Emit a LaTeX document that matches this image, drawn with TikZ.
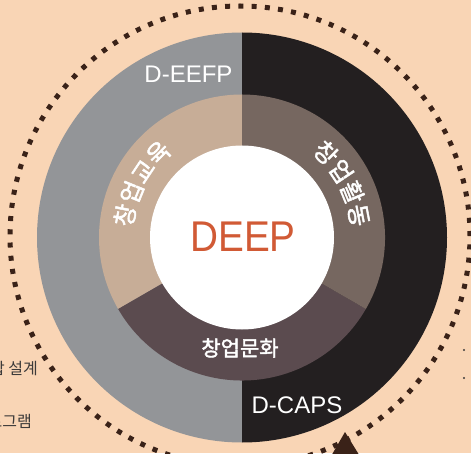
\documentclass[tikz,border=0pt]{standalone}
\usepackage{fontspec}
\setmainfont{Liberation Sans}
\newfontfamily\kr{Noto Sans CJK KR}
\newfontfamily\krb{Noto Sans CJK KR}[FakeBold=2]
\usetikzlibrary{decorations.text}
\definecolor{bg}{HTML}{F9D5B5}
\definecolor{outgray}{HTML}{939598}
\definecolor{outdark}{HTML}{231F20}
\definecolor{ringtan}{HTML}{C7AD97}
\definecolor{ringtaupe}{HTML}{766760}
\definecolor{ringmauve}{HTML}{5B4B4F}
\definecolor{deeporange}{HTML}{D15A35}
\definecolor{dotbrown}{HTML}{3A2218}
\definecolor{sidetext}{HTML}{3D3B3A}
\tikzset{
  dotring/.style={draw=dotbrown, line width=5pt, dash pattern=on 5pt off 8.258pt},
  ringlabel/.style={text=white, inner sep=0pt, font=\fontsize{24}{28}\selectfont},
  sidelabel/.style={text=sidetext, inner sep=0pt, anchor=east, font=\kr\fontsize{16}{19}\selectfont},
  curvedtext/.style={decorate, decoration={text along path, text align=center, text color=white, text={|\krb\fontsize{24}{28}\selectfont|#1}}}
}
\begin{document}
\begin{tikzpicture}[x=1pt,y=1pt]
\useasboundingbox (0,0) rectangle (471,453);
\fill[bg] (0,0) rectangle (471,453);
\coordinate (c) at (242,215.5);
\coordinate (dc) at (240,217);
% dotted orbit
\draw[dotring] (dc) circle[radius=230];
% outer ring
\fill[outgray] (c) -- ++(90:205) arc[start angle=90,end angle=270,radius=205] -- cycle;
\fill[outdark] (c) -- ++(90:205) arc[start angle=90,end angle=-90,radius=205] -- cycle;
% middle ring sectors
\fill[ringtan] (c) -- ++(90:143) arc[start angle=90,end angle=210,radius=143] -- cycle;
\fill[ringmauve] (c) -- ++(210:143) arc[start angle=210,end angle=330,radius=143] -- cycle;
\fill[ringtaupe] (c) -- ++(-30:143) arc[start angle=-30,end angle=90,radius=143] -- cycle;
\fill[white] (c) circle[radius=92];
% arrow head at bottom
\coordinate (tipA) at (345,21);
\coordinate (tipB) at (330,-5);
\coordinate (tipC) at (361,-5);
\fill[dotbrown] (tipA) -- (tipB) -- (tipC) -- cycle;
% texts
\node[text=deeporange, inner sep=0pt, font=\fontsize{43}{48}\selectfont] (deep) at (243,216.5) {\scalebox{0.9}[1]{DEEP}};
\node[ringlabel] (eefp) at (188.5,379) {D-EEFP};
\node[ringlabel] (caps) at (297,48) {D-CAPS};
\node[text=white, inner sep=0pt, font=\krb\fontsize{21}{25}\selectfont] (culture) at (240,105) {창업문화};
\path[shift={(242,215.5)}, curvedtext={창업교육}] (194:110) arc[start angle=194,end angle=110,radius=110];
\path[shift={(242,215.5)}, curvedtext={창업활동}] (70:110) arc[start angle=70,end angle=-14,radius=110];
% cropped side texts
\node[sidelabel] (design) at (38,85) {통합 설계};
\node[sidelabel] (program) at (32,32) {프로그램};
\fill[sidetext] (464,103) circle[radius=1.2];
\fill[sidetext] (464,75) circle[radius=1.2];
\end{tikzpicture}
\end{document}
